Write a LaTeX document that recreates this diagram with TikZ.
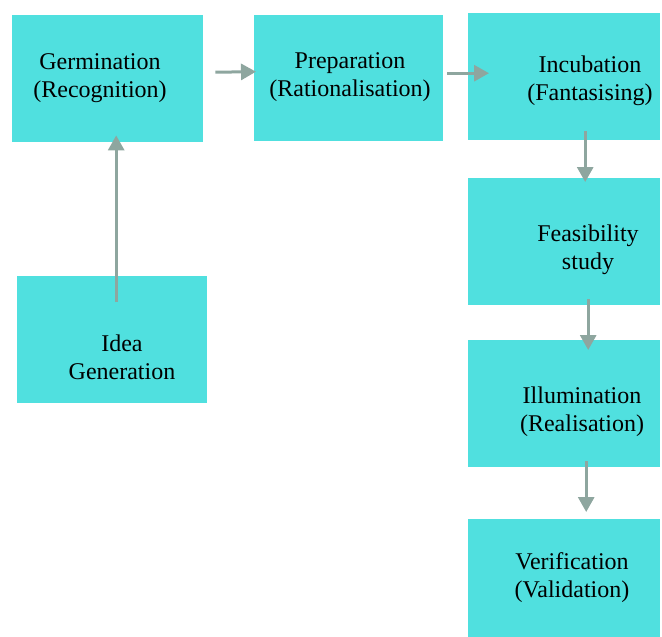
\documentclass[tikz,border=0pt]{standalone}
\usepackage{fontspec}
\setmainfont{Liberation Serif}
\usetikzlibrary{arrows.meta}
\definecolor{boxfill}{HTML}{50E0DF}
\definecolor{arrowgray}{HTML}{8EA69F}
\begin{document}
\begin{tikzpicture}[x=1pt,y=-1pt,
  stagebox/.style={fill=boxfill,draw=none,minimum width=191pt,minimum height=127pt,inner sep=0pt,anchor=north west},
  stagetext/.style={font=\fontsize{24}{28}\selectfont,align=center,inner sep=0pt},
  flow/.style={draw=arrowgray,line width=3pt,-{Triangle[length=15pt,width=16pt]}}]
\useasboundingbox (0,0) rectangle (662,637);
% boxes
\node[stagebox] (g) at (12,15) {};
\node[stagebox,minimum width=189pt,minimum height=126pt] (p) at (254,15) {};
\node[stagebox,minimum width=192pt] (i) at (468,13) {};
\node[stagebox,minimum width=192pt] (f) at (468,178) {};
\node[stagebox,minimum width=192pt] (il) at (468,340) {};
\node[stagebox,minimum width=192pt,minimum height=118pt] (v) at (468,519) {};
\node[stagebox,minimum width=190pt] (id) at (17,276) {};
% texts
\node[stagetext] (gt) at (100,78) {Germination\\(Recognition)};
\node[stagetext] (pt) at (350,77) {Preparation\\(Rationalisation)};
\node[stagetext] (it) at (590,81) {Incubation\\(Fantasising)};
\node[stagetext] (ft) at (588,250) {Feasibility\\study};
\node[stagetext] (ilt) at (582,412) {Illumination\\(Realisation)};
\node[stagetext] (vt) at (572,578) {Verification\\(Validation)};
\node[stagetext] (idt) at (122,357) {Idea\\Generation};
% connectors
\draw[flow] ([xshift=12pt,yshift=6.5pt]g.east) -- ([xshift=2pt,yshift=6.5pt]p.west);
\draw[flow] ([xshift=4pt,yshift=5pt]p.east) -- ([xshift=21pt,yshift=3.5pt]i.west);
\draw[flow] ([xshift=21pt,yshift=9pt]i.south) -- ([xshift=21pt,yshift=-4pt]f.north);
\draw[flow] ([xshift=24pt,yshift=6pt]f.south) -- ([xshift=24pt,yshift=-10pt]il.north);
\draw[flow] ([xshift=22pt,yshift=6pt]il.south) -- ([xshift=22pt,yshift=7pt]v.north);
\draw[flow] ([xshift=4pt,yshift=-26pt]id.north) -- ([xshift=8.5pt,yshift=7pt]g.south);
\end{tikzpicture}
\end{document}
